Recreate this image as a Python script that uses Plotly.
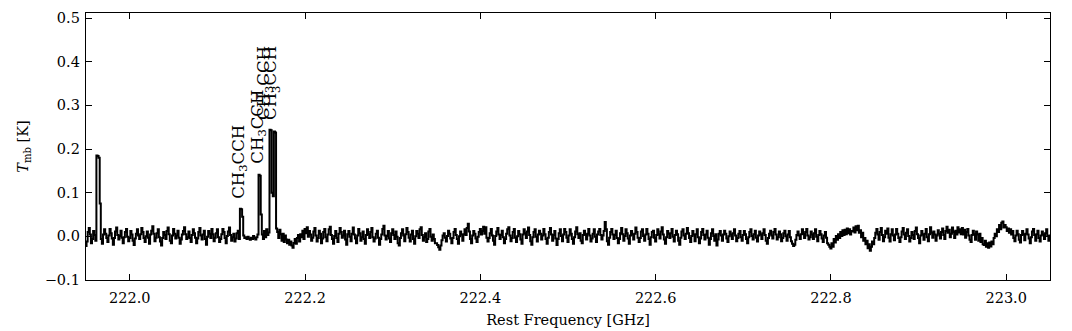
import plotly.graph_objects as go

# spectrum: regular channel grid, first channel and width in GHz
f_start = 221.95
chan_width = 0.00125

t_mb = [
    -0.022, -0.012, 0.010, 0.019, 0.004, -0.016, -0.006, 0.012, 0.003, -0.010,
    0.185, 0.184, 0.180, 0.075, -0.006, -0.017, 0.004, 0.016, 0.006, -0.004,
    -0.013, 0.002, 0.017, 0.007, -0.005, -0.019, -0.004, 0.011, 0.020, 0.003,
    -0.007, 0.001, 0.013, -0.003, -0.016, -0.002, 0.010, 0.017, -0.001, -0.011,
    -0.004, 0.012, 0.004, -0.010, -0.020, -0.005, 0.006, 0.016, 0.002, -0.006,
    0.005, 0.019, 0.010, -0.004, -0.013, 0.000, 0.011, -0.003, -0.017, 0.004,
    0.013, 0.023, 0.006, -0.011, -0.003, 0.007, 0.016, -0.002, -0.012, -0.021,
    -0.004, 0.010, 0.003, -0.006, 0.012, 0.020, 0.005, -0.010, -0.016, 0.002,
    0.017, 0.006, -0.005, 0.002, 0.013, -0.003, -0.017, -0.007, 0.004, 0.012,
    0.021, 0.005, -0.006, -0.002, 0.011, -0.004, -0.013, 0.003, 0.016, 0.007,
    -0.003, -0.016, -0.005, 0.010, 0.019, 0.002, -0.007, 0.004, 0.013, -0.006,
    -0.019, -0.001, 0.012, 0.006, -0.004, 0.017, 0.005, -0.011, -0.003, 0.007,
    0.016, -0.002, -0.013, -0.006, 0.005, 0.017, 0.010, -0.004, -0.016, 0.001,
    0.011, 0.020, 0.003, -0.010, -0.002, 0.006, -0.012, -0.005, 0.007, 0.013,
    -0.006, 0.063, 0.062, 0.045, 0.002, -0.004, -0.002, -0.006, -0.001, -0.005,
    -0.008, -0.003, -0.006, 0.001, -0.004, -0.007, -0.002, 0.004, 0.141, 0.139,
    0.050, 0.004, -0.006, 0.012, -0.002, 0.016, 0.003, 0.009, 0.244, 0.243,
    0.100, 0.092, 0.240, 0.238, 0.018, 0.010, -0.004, 0.015, 0.005, -0.010,
    0.006, -0.013, 0.002, -0.007, -0.016, -0.008, -0.019, -0.012, -0.021, -0.026,
    -0.015, -0.006, -0.017, -0.004, 0.003, -0.012, 0.005, -0.002, 0.013, -0.006,
    0.017, 0.007, 0.021, -0.001, 0.012, 0.004, -0.010, -0.003, 0.011, 0.019,
    0.002, -0.012, -0.004, 0.013, 0.006, -0.016, -0.005, 0.010, 0.017, -0.002,
    -0.011, 0.004, 0.016, 0.022, 0.003, -0.006, -0.017, 0.001, 0.012, -0.004,
    -0.013, 0.006, 0.019, 0.010, -0.003, 0.002, 0.013, -0.007, -0.019, 0.005,
    0.012, -0.001, -0.011, 0.006, 0.020, 0.004, -0.005, -0.016, 0.002, 0.017,
    0.007, -0.010, -0.002, 0.011, -0.006, -0.017, 0.003, 0.016, 0.005, -0.004,
    0.010, 0.019, -0.002, -0.012, -0.005, 0.006, 0.013, -0.003, -0.019, -0.006,
    0.004, 0.017, 0.024, 0.002, -0.007, 0.001, 0.012, -0.005, -0.013, 0.007,
    0.016, 0.003, -0.006, 0.011, -0.001, -0.016, -0.021, -0.004, 0.007, 0.016,
    0.002, -0.011, 0.005, 0.019, 0.010, -0.003, -0.012, 0.004, 0.013, -0.006,
    -0.017, 0.000, 0.012, 0.006, -0.004, 0.016, 0.021, 0.003, -0.010, -0.002,
    0.007, -0.013, -0.006, 0.011, 0.017, -0.001, -0.010, 0.004, -0.006, -0.016,
    -0.016, -0.020, -0.025, -0.031, -0.021, -0.009, 0.002, 0.007, -0.003, -0.012,
    0.001, 0.013, 0.006, -0.005, -0.016, -0.004, 0.010, 0.017, 0.003, -0.006,
    -0.017, 0.000, 0.011, 0.004, -0.010, 0.005, 0.016, 0.003, 0.019, 0.029,
    0.011, -0.006, -0.016, 0.002, 0.012, 0.006, -0.005, -0.013, -0.001, 0.010,
    0.017, 0.004, 0.012, 0.022, 0.006, 0.021, -0.003, -0.012, -0.004, 0.007,
    0.017, 0.002, -0.010, -0.019, 0.001, 0.011, 0.019, 0.004, -0.006, 0.003,
    0.013, -0.002, -0.016, -0.006, 0.006, 0.016, 0.021, 0.002, -0.011, -0.004,
    0.010, 0.017, -0.003, -0.013, 0.000, 0.012, 0.005, -0.007, -0.017, 0.004,
    0.016, 0.007, -0.004, 0.011, 0.020, 0.003, -0.011, -0.019, -0.002, 0.010,
    0.016, -0.001, -0.012, 0.004, 0.013, 0.006, -0.007, 0.002, 0.017, 0.005,
    -0.006, -0.017, -0.003, 0.010, 0.019, 0.004, -0.010, 0.003, 0.012, -0.005,
    -0.020, -0.006, 0.007, 0.016, 0.001, -0.011, 0.004, 0.017, 0.010, -0.003,
    -0.013, 0.002, 0.016, 0.006, -0.006, -0.017, -0.002, 0.011, 0.021, 0.005,
    -0.004, 0.007, -0.010, -0.016, 0.003, 0.013, 0.004, -0.007, 0.006, 0.017,
    0.002, -0.012, -0.005, 0.006, 0.016, -0.001, -0.013, 0.004, 0.011, 0.017,
    0.003, -0.007, 0.002, 0.012, 0.033, 0.016, -0.011, -0.019, -0.003, 0.010,
    0.017, 0.004, -0.006, 0.003, 0.013, -0.004, -0.016, -0.006, 0.007, 0.019,
    0.005, -0.010, 0.001, 0.016, 0.007, -0.005, -0.017, 0.002, 0.012, 0.004,
    -0.007, 0.006, 0.020, 0.010, -0.003, -0.013, -0.004, 0.011, 0.016, 0.001,
    -0.010, 0.004, 0.017, 0.006, -0.006, -0.019, -0.002, 0.010, 0.013, -0.003,
    -0.012, 0.003, 0.016, 0.005, -0.005, 0.011, 0.021, 0.004, -0.007, -0.017,
    -0.002, 0.012, 0.006, -0.004, 0.007, 0.017, -0.001, -0.012, 0.003, 0.013,
    0.005, -0.010, -0.019, -0.003, 0.011, 0.016, 0.002, -0.006, 0.006, 0.019,
    0.007, -0.004, -0.013, 0.001, 0.012, 0.004, -0.011, 0.005, 0.016, -0.002,
    -0.016, -0.005, 0.010, 0.017, 0.003, -0.007, 0.004, 0.013, -0.003, -0.019,
    -0.006, 0.007, 0.016, 0.001, -0.010, 0.005, -0.021, -0.007, 0.006, 0.012,
    0.002, -0.010, 0.004, 0.013, 0.006, -0.005, -0.013, 0.000, 0.011, 0.004,
    -0.006, 0.007, 0.016, 0.002, -0.011, -0.004, 0.006, 0.012, -0.002, -0.010,
    0.003, 0.012, 0.005, -0.006, -0.016, -0.002, 0.010, 0.016, 0.001, -0.007,
    0.005, 0.013, -0.003, -0.012, 0.002, 0.011, 0.004, -0.006, 0.007, 0.016,
    0.003, -0.010, -0.017, -0.004, 0.006, 0.013, 0.002, -0.005, 0.010, 0.017,
    0.004, -0.007, -0.002, 0.011, 0.005, -0.011, -0.004, 0.007, 0.013, 0.000,
    -0.010, 0.004, 0.012, -0.002, -0.011, -0.017, -0.022, -0.019, -0.008, 0.003,
    0.011, 0.002, -0.006, 0.005, 0.016, 0.006, -0.004, 0.010, 0.017, 0.002,
    -0.007, -0.002, 0.011, 0.004, -0.006, 0.007, 0.016, -0.001, -0.011, 0.003,
    0.012, 0.005, -0.005, -0.013, 0.002, 0.010, -0.003, -0.016, -0.019, -0.024,
    -0.028, -0.016, -0.024, -0.006, -0.014, 0.001, -0.008, 0.005, -0.004, 0.010,
    0.001, 0.014, 0.003, 0.015, 0.005, 0.018, 0.007, 0.016, 0.004, 0.012,
    0.011, 0.020, 0.009, 0.023, 0.014, 0.024, 0.008, 0.014, -0.002, 0.008,
    -0.010, -0.004, -0.018, -0.010, -0.027, -0.018, -0.033, -0.024, -0.012, -0.018,
    -0.004, 0.008, 0.017, 0.004, -0.008, 0.010, 0.019, 0.003, -0.011, -0.002,
    0.013, 0.006, 0.018, -0.003, -0.012, 0.005, 0.016, 0.002, -0.009, 0.004,
    0.017, 0.006, -0.004, -0.013, -0.002, 0.011, 0.019, 0.004, -0.006, 0.008,
    0.016, 0.001, -0.012, -0.004, 0.010, 0.003, -0.006, 0.012, 0.020, 0.005,
    -0.004, -0.016, 0.002, 0.012, 0.004, -0.008, 0.006, 0.017, -0.002, -0.011,
    0.005, 0.021, 0.008, -0.003, 0.011, 0.004, -0.010, 0.002, 0.014, 0.006,
    -0.005, 0.010, 0.018, 0.003, -0.006, 0.012, 0.022, 0.008, 0.015, -0.002,
    0.006, 0.020, 0.010, -0.004, 0.013, 0.004, 0.021, 0.009, 0.016, 0.005,
    0.019, 0.004, 0.015, -0.003, 0.010, 0.017, 0.002, -0.008, -0.013, 0.003,
    0.013, 0.005, -0.008, 0.011, 0.004, -0.010, 0.006, -0.013, -0.004, -0.018,
    -0.020, -0.010, -0.024, -0.016, -0.026, -0.014, -0.023, -0.012, -0.018, -0.004,
    0.006, 0.000, 0.016, 0.010, 0.026, 0.016, 0.031, 0.034, 0.020, 0.026,
    0.021, 0.012, 0.018, 0.008, 0.016, 0.004, 0.012, -0.004, -0.011, 0.002,
    0.013, 0.005, -0.008, -0.014, 0.003, 0.012, 0.004, -0.009, 0.006, 0.016,
    0.004, -0.005, -0.016, -0.002, 0.011, 0.017, 0.003, -0.010, 0.005, 0.013,
    -0.004, -0.012, 0.002, 0.011, 0.004, -0.006, 0.007, 0.016, 0.001, -0.010,
    0.002,
]

# line identifications (label position in GHz, label base in K)
line_names = ["CH<sub>3</sub>CCH"] * 4
line_freq = [222.1249, 222.1458, 222.1544, 222.1623]
line_ybase = [0.082, 0.161, 0.262, 0.262]

freq = [f_start + i * chan_width for i in range(len(t_mb))]

FONT = "DejaVu Serif"

fig = go.Figure()
fig.add_trace(go.Scatter(
    x=freq, y=t_mb, mode="lines", line_shape="hvh",
    line=dict(color="black", width=2), showlegend=False, hoverinfo="skip"))

for name, f, y in zip(line_names, line_freq, line_ybase):
    fig.add_annotation(x=f, y=y, text=name, textangle=-90, showarrow=False,
                       xanchor="center", yanchor="bottom",
                       font=dict(family=FONT, size=16.5, color="black"))

axis_common = dict(showline=True, linecolor="black", linewidth=1.4, mirror="ticks",
                   ticks="inside", ticklen=6, tickwidth=1, tickcolor="black",
                   showgrid=False, zeroline=False, automargin=False,
                   tickfont=dict(family=FONT, size=14.5, color="black"))

fig.update_xaxes(range=[221.95, 223.05], dtick=0.2, tick0=222.0, tickformat=".1f",
                 title=dict(text="Rest Frequency [GHz]", standoff=10,
                            font=dict(family=FONT, size=14.5, color="black")),
                 ticklabelstandoff=4, **axis_common)
fig.update_yaxes(range=[-0.1, 0.5115], dtick=0.1, tick0=0.0, tickformat=".1f",
                 title=dict(text="<i>T</i><sub>mb</sub> [K]", standoff=12,
                            font=dict(family=FONT, size=14.5, color="black")),
                 ticklabelstandoff=2, **axis_common)

# page body adds an 8px margin, so the figure is 8px smaller than the window
fig.update_layout(width=1064, height=323, plot_bgcolor="white", paper_bgcolor="white",
                  margin=dict(l=78, r=22, t=5, b=51))

fig.write_html("out.html")
